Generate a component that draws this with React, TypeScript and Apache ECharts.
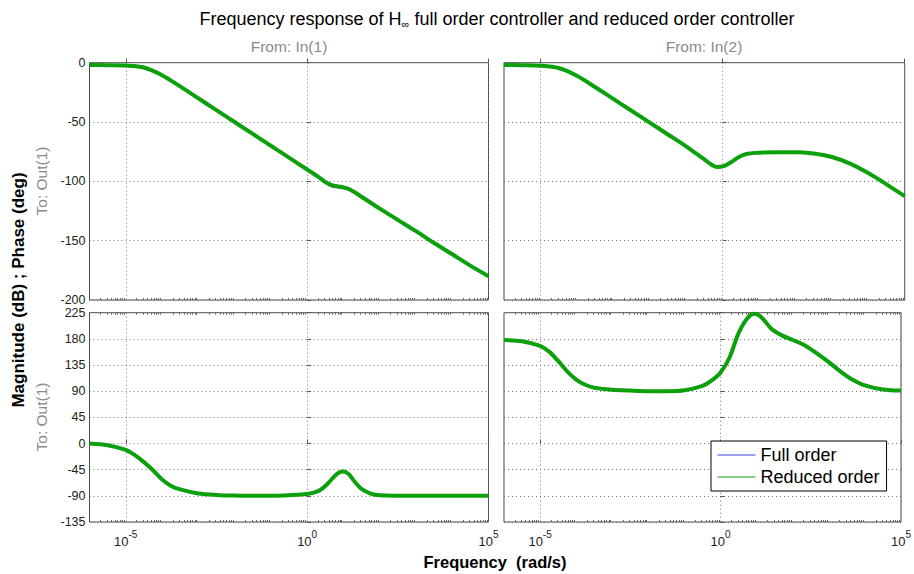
import React, { useEffect, useRef } from "react";
import * as echarts from "echarts";

const FONT = '"Liberation Sans", Arial, Helvetica, sans-serif';

// ---- data: x values are log10(frequency in rad/s) ----
const magIn1Exp = [-6, -5.5, -5, -4.5, -4, -3.5, -3, -2.5, -2, -1.5, -1, -0.5, 0, 0.3, 0.5, 0.7, 0.9, 1.1, 1.3, 1.5, 2, 2.5, 3, 3.5, 4, 4.5, 5];
const magIn1Reduced = [-2, -2.1, -2.4, -4, -10.5, -20, -30, -40, -50, -60, -70, -80, -90, -96, -100.5, -103.5, -104.5, -106, -109, -113, -123, -132.5, -142, -152, -161.5, -171, -180];
const magIn1Full = [-2, -2.1, -2.4, -4, -10.5, -20, -30, -40, -50, -60, -70, -80, -90, -96, -101, -104.5, -105.5, -106.5, -109, -113, -123, -132.5, -142, -152, -161.5, -171, -180];

const magIn2Exp = [-6, -5.5, -5, -4.5, -4, -3.5, -3, -2.5, -2, -1.5, -1, -0.75, -0.5, -0.3, -0.15, 0.05, 0.25, 0.45, 0.65, 0.9, 1.5, 2, 2.5, 3, 3.5, 4, 4.5, 5];
const magIn2Reduced = [-2, -2.1, -2.5, -4.5, -11, -20.5, -30.5, -40.5, -50.5, -60.5, -70.5, -76, -81.5, -86, -88, -87, -83.5, -79.5, -77, -76, -75.5, -75.5, -76.5, -79.5, -85, -93, -102.5, -112.5];
const magIn2Full = [-2, -2.1, -2.5, -4.5, -11, -20.5, -30.5, -40.5, -50.5, -60.5, -70.5, -76, -81.5, -86.5, -88.5, -87, -83.5, -79.5, -77, -76, -75.5, -75.5, -76.5, -79.5, -85, -93, -102.5, -112.5];

const phaseIn1Exp = [-6, -5.5, -5, -4.75, -4.5, -4.25, -4, -3.75, -3.5, -3, -2.5, -2, -1.5, -1, -0.5, 0, 0.3, 0.5, 0.7, 0.85, 1.0, 1.15, 1.3, 1.5, 1.75, 2, 3, 4, 5];
const phaseIn1Reduced = [0, -3, -11, -20, -32, -46, -62, -73, -79, -86, -88.5, -89.5, -90, -90, -89, -87, -82, -73, -60, -51, -48, -53, -65, -78, -86, -89, -90, -90, -90];
const phaseIn1Full = [0, -3, -11, -20, -32, -46, -62, -73, -79, -86, -88.5, -89.5, -90, -90, -89, -87, -83.5, -75, -61.5, -52, -48.5, -53, -65, -78, -86, -89, -90, -90, -90];

const phaseIn2Exp = [-6, -5.5, -5, -4.75, -4.5, -4.25, -4, -3.75, -3.5, -3, -2.5, -2, -1.5, -1, -0.5, -0.25, 0, 0.25, 0.5, 0.75, 0.95, 1.15, 1.4, 1.7, 2, 2.3, 2.6, 3, 3.3, 3.6, 4, 4.5, 5];
const phaseIn2Reduced = [178, 176, 168, 158, 142, 124, 110, 101, 96, 92.5, 91, 90, 90, 91.5, 99, 108, 122, 148, 190, 216, 223, 216, 198, 186, 178, 170, 158, 140, 125, 112, 100, 93, 91];
const phaseIn2Full = [178, 176, 168, 158, 142, 124, 110, 101, 96, 92.5, 90.5, 89, 89, 90.5, 99, 108, 122, 148, 190, 216, 223, 216, 198, 186, 178, 170, 158, 140, 125, 112, 100, 93, 91];

const xMajorTicks = [-5, 0, 5];
const xMinorTicks: number[] = [];
for (let d = -6; d < 5; d++) {
  for (let k = 2; k <= 9; k++) xMinorTicks.push(d + Math.log10(k));
}

const magRange = { min: -200, max: 0, interval: 50 };
const phaseRange = { min: -135, max: 225, interval: 45 };

const title = "Frequency response of H";
const titleSub = "∞";
const titleRest = " full order controller and reduced order controller";
const colHeaders = ["From: In(1)", "From: In(2)"];
const rowHeader = "To: Out(1)";
const yTitle = "Magnitude (dB) ; Phase (deg)";
const xTitle = "Frequency  (rad/s)";
const seriesNames = ["Full order", "Reduced order"];

const FULL_COLOR = "#3c3cdc";
const RED_COLOR = "#0ca00c";

const zip = (xs: number[], ys: number[]) => xs.map((x, i) => [x, ys[i]]);

export default function App() {
  const ref = useRef<HTMLDivElement>(null);
  useEffect(() => {
    if (!ref.current) return;
    const chart = echarts.init(ref.current, null, { renderer: "svg" });

    const grids = [
      { left: 89.5, top: 62.7, width: 399, height: 237.3 },
      { left: 504, top: 62.7, width: 400.7, height: 237.3 },
      { left: 89.5, top: 312.7, width: 399, height: 209.3 },
      { left: 504, top: 312.7, width: 400.7, height: 209.3 },
    ].map((g) => ({ ...g, show: true, borderColor: "#4a4a4a", borderWidth: 1, backgroundColor: "#fff" }));

    const xAxes: any[] = [];
    const yAxes: any[] = [];
    for (let i = 0; i < 4; i++) {
      const bottomRow = i >= 2;
      xAxes.push({
        gridIndex: i,
        type: "value",
        min: -6,
        max: 5,
        axisLine: { show: false },
        axisTick: { show: true, inside: true, length: 4, customValues: xMajorTicks, lineStyle: { color: "#555" } },
        axisLabel: {
          show: bottomRow,
          customValues: xMajorTicks,
          margin: 6,
          formatter: (v: number) => `{b|10}{s|${v}}`,
          rich: {
            b: { fontSize: 13, fontFamily: FONT, color: "#222", padding: [7, 0, 0, 0] },
            s: { fontSize: 10, fontFamily: FONT, color: "#222", padding: [0, 0, 7, 0] },
          },
        },
        splitLine: { show: true, lineStyle: { color: "#777", type: [1, 3], width: 1 } },
      });
      yAxes.push({
        gridIndex: i,
        type: "value",
        ...(i < 2 ? magRange : phaseRange),
        axisLine: { show: false },
        axisTick: { show: true, inside: true, length: 4, lineStyle: { color: "#555" } },
        axisLabel: { show: i % 2 === 0, fontSize: 12.5, lineHeight: 11, fontFamily: FONT, color: "#222", margin: 4 },
        splitLine: { show: true, lineStyle: { color: "#777", type: [1, 3], width: 1 } },
      });
    }
    // minor log ticks
    for (let i = 0; i < 4; i++) {
      const positions = i >= 2 ? ["bottom", "top"] : ["bottom"];
      positions.forEach((pos) => {
        xAxes.push({
          gridIndex: i,
          type: "value",
          position: pos,
          min: -6,
          max: 5,
          axisLine: { show: false },
          axisTick: { show: true, inside: true, length: 2, customValues: xMinorTicks, lineStyle: { color: "#666" } },
          axisLabel: { show: false },
          splitLine: { show: false },
        });
      });
    }

    const panels = [
      { exp: magIn1Exp, full: magIn1Full, red: magIn1Reduced },
      { exp: magIn2Exp, full: magIn2Full, red: magIn2Reduced },
      { exp: phaseIn1Exp, full: phaseIn1Full, red: phaseIn1Reduced },
      { exp: phaseIn2Exp, full: phaseIn2Full, red: phaseIn2Reduced },
    ];
    const series: any[] = [];
    panels.forEach((p, i) => {
      series.push({
        name: seriesNames[0],
        type: "line",
        xAxisIndex: i,
        yAxisIndex: i,
        data: zip(p.exp, p.full),
        showSymbol: false,
        symbol: "none",
        smooth: 0.3,
        lineStyle: { color: FULL_COLOR, width: 1.5 },
        itemStyle: { color: FULL_COLOR },
        z: 3,
      });
    });
    panels.forEach((p, i) => {
      series.push({
        name: seriesNames[1],
        type: "line",
        xAxisIndex: i,
        yAxisIndex: i,
        data: zip(p.exp, p.red),
        showSymbol: false,
        symbol: "none",
        smooth: 0.3,
        lineStyle: { color: RED_COLOR, width: 4 },
        itemStyle: { color: RED_COLOR },
        z: 4,
      });
    });

    const gray = "#8a8a8a";
    const graphic: any[] = [
      {
        type: "text",
        x: 497,
        y: 19,
        style: {
          text: `{a|${title}}{s|${titleSub}}{a|${titleRest}}`,
          align: "center",
          verticalAlign: "middle",
          rich: {
            a: { fontSize: 18, fontFamily: FONT, fill: "#000", color: "#000" },
            s: { fontSize: 11, fontFamily: FONT, fill: "#000", color: "#000", padding: [10, 0, 0, 0] },
          },
        },
      },
      { type: "text", x: 289, y: 46, style: { text: colHeaders[0], fontSize: 15.5, fontFamily: FONT, fill: gray, align: "center", verticalAlign: "middle" } },
      { type: "text", x: 704, y: 46, style: { text: colHeaders[1], fontSize: 15.5, fontFamily: FONT, fill: gray, align: "center", verticalAlign: "middle" } },
      { type: "text", x: 41, y: 181, rotation: Math.PI / 2, style: { text: rowHeader, fontSize: 15.5, fontFamily: FONT, fill: gray, align: "center", verticalAlign: "middle" } },
      { type: "text", x: 41, y: 417, rotation: Math.PI / 2, style: { text: rowHeader, fontSize: 15.5, fontFamily: FONT, fill: gray, align: "center", verticalAlign: "middle" } },
      { type: "text", x: 18, y: 290, rotation: Math.PI / 2, style: { text: yTitle, fontSize: 17, fontWeight: "bold", fontFamily: FONT, fill: "#000", align: "center", verticalAlign: "middle" } },
      { type: "text", x: 495, y: 562, style: { text: xTitle, fontSize: 16.5, fontWeight: "bold", fontFamily: FONT, fill: "#000", align: "center", verticalAlign: "middle" } },
    ];

    chart.setOption({
      animation: false,
      backgroundColor: "#fff",
      grid: grids,
      xAxis: xAxes,
      yAxis: yAxes,
      series,
      graphic,
      legend: {
        data: seriesNames,
        orient: "vertical",
        left: 711,
        top: 441,
        backgroundColor: "#fff",
        borderColor: "#000",
        borderWidth: 1,
        borderRadius: 0,
        padding: [5, 7, 5, 6],
        itemGap: 4,
        itemWidth: 38,
        itemHeight: 14,
        lineStyle: { width: 1 },
        itemStyle: { opacity: 0, borderWidth: 0 },
        textStyle: { fontSize: 18, fontFamily: FONT, color: "#000" },
      },
    });
    return () => chart.dispose();
  }, []);
  return <div ref={ref} style={{ position: "absolute", left: 0, top: 0, width: 914, height: 574 }} />;
}
